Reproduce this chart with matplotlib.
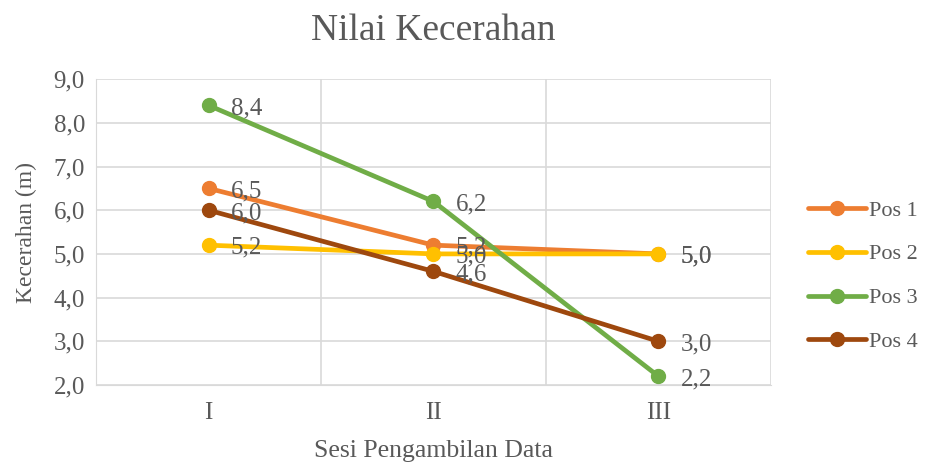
import matplotlib.pyplot as plt

plt.rcParams['font.family'] = ['Liberation Serif', 'DejaVu Serif']

sesi = ['I', 'II', 'III']
pos1 = [6.5, 5.2, 5.0]
pos2 = [5.2, 5.0, 5.0]
pos3 = [8.4, 6.2, 2.2]
pos4 = [6.0, 4.6, 3.0]
nama = ['Pos 1', 'Pos 2', 'Pos 3', 'Pos 4']
warna = ['#ED7D31', '#FFC000', '#70AD47', '#9E480E']

teks = '#595959'

fig = plt.figure(figsize=(9.27, 4.67), dpi=100)
ax = fig.add_axes([0.1036, 0.1756, 0.728, 0.655])

x = range(len(sesi))
for data, label, c in zip([pos1, pos2, pos3, pos4], nama, warna):
    ax.plot(x, data, color=c, lw=3.4, marker='o', markersize=10, label=label,
            solid_capstyle='round', zorder=3)
    for xi, yi in zip(x, data):
        ax.annotate(f'{yi:.1f}'.replace('.', ','), (xi, yi), xytext=(16, -2),
                    textcoords='offset points', va='center', ha='left',
                    fontsize=18, color=teks, zorder=4)

ax.set_xlim(-0.5, 2.5)
ax.set_ylim(2, 9)
ax.set_yticks(range(2, 10))
ax.set_yticklabels([f'{v},0' for v in range(2, 10)])
ax.set_xticks(list(x))
ax.set_xticklabels(sesi)
ax.set_xticks([-0.5, 0.5, 1.5, 2.5], minor=True)

ax.grid(axis='y', which='major', color='#D9D9D9', lw=1.2)
ax.grid(axis='x', which='minor', color='#D9D9D9', lw=1.2)
ax.tick_params(which='both', length=0, labelsize=18, colors=teks)
ax.tick_params(axis='x', pad=12)
ax.tick_params(axis='y', pad=8)
for s in ax.spines.values():
    s.set_visible(False)
ax.spines['bottom'].set_visible(True)
ax.spines['bottom'].set_color('#D9D9D9')
ax.spines['left'].set_visible(True)
ax.spines['left'].set_color('#D9D9D9')

ax.set_title('Nilai Kecerahan', fontsize=27, color=teks, pad=28)
ax.set_xlabel('Sesi Pengambilan Data', fontsize=18.5, color=teks, labelpad=12)
ax.set_ylabel('Kecerahan (m)', fontsize=17, color=teks, labelpad=12)

leg = ax.legend(loc='center left', bbox_to_anchor=(1.025, 0.356), frameon=False,
                fontsize=16, labelcolor=teks, handlelength=2.6,
                handletextpad=0.15, labelspacing=1.05)

fig.savefig('out.png', dpi=100)
